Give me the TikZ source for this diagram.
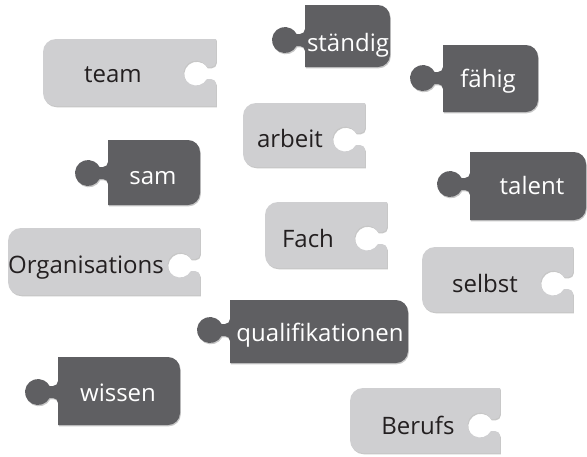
\documentclass[tikz,border=0pt]{standalone}
\usepackage{fontspec}
\setmainfont{Open Sans}
\usetikzlibrary{shadows}
\definecolor{darkpc}{HTML}{5F5F62}
\definecolor{lightpc}{HTML}{CFCFD1}
\definecolor{inkc}{HTML}{231F20}
\tikzset{
  pshadow/.style={drop shadow={shadow xshift=0.8pt,shadow yshift=-1.3pt,opacity=0.22,fill=black}},
  lightfill/.style={fill=lightpc,pshadow},
  darkfill/.style={fill=darkpc,pshadow},
  wordbase/.style={inner sep=0pt,anchor=base,font=\fontsize{24}{28}\selectfont},
  lighttxt/.style={wordbase,text=inkc},
  darktxt/.style={wordbase,text=white},
}
% light piece: L T R B C (pixel coordinates, y downwards)
\newcommand\lpiece[5]{%
  \fill[lightfill] (#1+13,#2) arc[start angle=90,end angle=180,radius=13pt]
    -- (#1,#4-13) arc[start angle=180,end angle=270,radius=13pt]
    -- (#3,#4) -- (#3,#5+11) arc[start angle=0,end angle=90,radius=5pt]
    -- (#3-20+10.966,#5+6) arc[start angle=-28.69,end angle=-331.31,radius=12.5pt]
    -- (#3-5,#5-6) arc[start angle=-90,end angle=0,radius=5pt]
    -- (#3,#2) -- cycle;}
% dark piece: L T R B C
\newcommand\dpiece[5]{%
  \fill[darkfill] (#1,#2) -- (#3-12,#2) arc[start angle=90,end angle=0,radius=12pt]
    -- (#3,#4-12) arc[start angle=0,end angle=-90,radius=12pt]
    -- (#1,#4) -- (#1,#5+11) arc[start angle=0,end angle=90,radius=5pt]
    -- (#1-20+11.53,#5+6) arc[start angle=-27.49,end angle=-332.51,radius=13pt]
    -- (#1-5,#5-6) arc[start angle=-90,end angle=0,radius=5pt]
    -- cycle;}
\begin{document}
\begin{tikzpicture}[x=1pt,y=-1pt]
\useasboundingbox[fill=white] (0,0) rectangle (587,456);
% light pieces
\lpiece{43}{39}{216}{106}{73}
\node[lighttxt] (team) at (113,82) {team};
\lpiece{243}{103}{365}{167}{139}
\node[lighttxt] (arbeit) at (290,147) {arbeit};
\lpiece{8}{228}{200}{295}{265}
\node[lighttxt] (organisations) at (86,273) {Organisations};
\lpiece{265}{202}{387}{268}{238}
\node[lighttxt] (fach) at (308,247) {Fach};
\lpiece{422}{247}{573}{312}{283}
\node[lighttxt] (selbst) at (485,292) {selbst};
\lpiece{350}{388}{500}{453}{425}
\node[lighttxt] (berufs) at (418,434) {Berufs};
% dark pieces
\dpiece{305}{5}{390}{67}{40}
\node[darktxt] (staendig) at (348,51) {ständig};
\dpiece{443}{45}{538}{112}{78}
\node[darktxt] (faehig) at (488,87) {fähig};
\dpiece{108}{140}{200}{205}{173}
\node[darktxt] (sam) at (153,184) {sam};
\dpiece{470}{152}{586}{220}{184}
\node[darktxt] (talent) at (532,194) {talent};
\dpiece{230}{300}{408}{363}{330}
\node[darktxt] (quali) at (320,341) {qualifikationen};
\dpiece{58}{357}{180}{425}{392}
\node[darktxt] (wissen) at (118,401) {wissen};
\end{tikzpicture}
\end{document}
